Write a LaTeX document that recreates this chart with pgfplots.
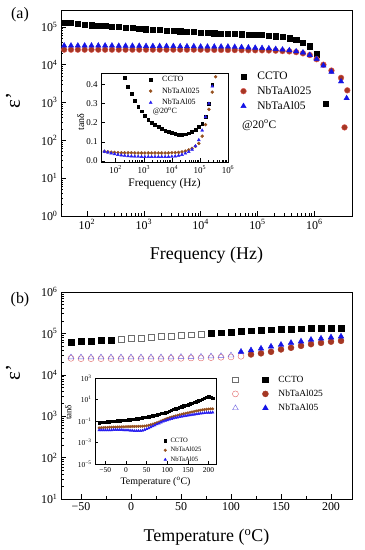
\documentclass[border=0pt]{standalone}
\usepackage{fontspec}
\setmainfont{Liberation Serif}
\usepackage{pgfplots}
\pgfplotsset{compat=1.18}
\definecolor{cbr}{RGB}{165,55,35}
\definecolor{cbrE}{RGB}{225,90,90}
\definecolor{cbl}{RGB}{20,20,230}
\definecolor{ibr}{RGB}{150,80,30}
\definecolor{ibl}{RGB}{40,30,240}
\definecolor{ored}{RGB}{225,100,100}
\definecolor{oblu}{RGB}{110,100,225}
\definecolor{ogry}{RGB}{110,110,110}
\pgfplotsset{
  every axis/.append style={tick align=inside, axis line style={line width=0.6bp},
    every tick/.style={black, line width=0.5bp}, scale only axis, anchor=south west},
}
\begin{document}
\begin{tikzpicture}[x=1bp,y=1bp]
\path[use as bounding box] (0,0) rectangle (364,550);
% ---------------- panel (a) main
\begin{axis}[at={(61bp,334bp)}, width=291bp, height=206bp,
  xmode=log, ymode=log, xmin=35, xmax=4.6e6, ymin=1, ymax=2.8e5,
  xtick={1e2,1e3,1e4,1e5,1e6},
  xticklabels={10\textsuperscript{2},10\textsuperscript{3},10\textsuperscript{4},10\textsuperscript{5},10\textsuperscript{6}},
  ytick={1,10,100,1e3,1e4,1e5},
  yticklabels={10\textsuperscript{0},10\textsuperscript{1},10\textsuperscript{2},10\textsuperscript{3},10\textsuperscript{4},10\textsuperscript{5}},
  xtick pos=left, ytick pos=left,
  major tick length=5bp, minor tick length=2.5bp,
  ticklabel style={font=\fontsize{12}{12}\selectfont},
  xlabel={Frequency (Hz)},
  xlabel style={font=\fontsize{18}{18}\selectfont, at={(rel axis cs:0.5,0)}, anchor=center, yshift=-39bp},
  ylabel={ε'},
  ylabel style={font=\fontsize{21}{21}\selectfont, at={(rel axis cs:-0.165,0.56)}, anchor=center},
  legend style={draw=none, fill=none, at={(rel axis cs:0.613,0.715)}, anchor=north west,
    font=\fontsize{11.5}{13}\selectfont, row sep=1.5bp, inner sep=1bp,
    /tikz/every odd column/.append style={column sep=9bp}},
  legend cell align=left,
]
\addplot[only marks, mark=square*, mark size=2.6bp, black] coordinates {
(39.8,1.32e5)(52.5,1.26e5)(69.2,1.2e5)(91.2,1.15e5)(120.2,1.11e5)(158.5,1.08e5)(208.9,1.05e5)(275.4,1.02e5)
(363.1,9.9e4)(478.6,9.6e4)(631,9.3e4)(831.8,9.0e4)(1096,8.7e4)(1445,8.5e4)(1905,8.3e4)(2512,8.1e4)
(3311,7.9e4)(4365,7.7e4)(5754,7.5e4)(7586,7.3e4)(1e4,7.1e4)(13183,7.0e4)(17378,6.8e4)(22909,6.7e4)
(30200,6.6e4)(39811,6.5e4)(52481,6.4e4)(69183,6.3e4)(91201,6.2e4)(120226,6.1e4)(158489,5.9e4)(208930,5.7e4)
(275423,5.4e4)(363078,5.0e4)(478630,4.5e4)(630957,3.9e4)(831764,3.1e4)(1096478,1.9e4)(1600000,950)
};
\addlegendentry{CCTO}
\addplot[only marks, mark=*, mark size=2.9bp, draw=cbrE, fill=cbr] coordinates {
(39.8,2.5e4)(52.5,2.5e4)(69.2,2.5e4)(91.2,2.5e4)(120.2,2.5e4)(158.5,2.5e4)(208.9,2.5e4)(275.4,2.5e4)
(363.1,2.5e4)(478.6,2.5e4)(631,2.5e4)(831.8,2.5e4)(1096,2.5e4)(1445,2.5e4)(1905,2.5e4)(2512,2.5e4)
(3311,2.5e4)(4365,2.5e4)(5754,2.5e4)(7586,2.5e4)(1e4,2.5e4)(13183,2.48e4)(17378,2.47e4)(22909,2.46e4)
(30200,2.45e4)(39811,2.44e4)(52481,2.43e4)(69183,2.42e4)(91201,2.41e4)(120226,2.4e4)(158489,2.38e4)(208930,2.35e4)
(275423,2.3e4)(363078,2.25e4)(478630,2.15e4)(630957,2.0e4)(831764,1.8e4)(1096478,1.4e4)(1445440,1.0e4)
(2000000,7000)(2950000,4500)(3800000,2100)(3400000,220)
};
\addlegendentry{NbTaAl025}
\addplot[only marks, mark=triangle*, mark size=3.1bp, cbl] coordinates {
(39.8,3.2e4)(52.5,3.2e4)(69.2,3.2e4)(91.2,3.2e4)(120.2,3.2e4)(158.5,3.2e4)(208.9,3.2e4)(275.4,3.2e4)
(363.1,3.15e4)(478.6,3.15e4)(631,3.15e4)(831.8,3.15e4)(1096,3.1e4)(1445,3.1e4)(1905,3.1e4)(2512,3.1e4)
(3311,3.1e4)(4365,3.05e4)(5754,3.05e4)(7586,3.05e4)(1e4,3.0e4)(13183,3.0e4)(17378,3.0e4)(22909,3.0e4)
(30200,3.0e4)(39811,2.95e4)(52481,2.9e4)(69183,2.85e4)(91201,2.8e4)(120226,2.75e4)(158489,2.7e4)(208930,2.6e4)
(275423,2.5e4)(363078,2.4e4)(478630,2.25e4)(630957,2.1e4)(831764,1.8e4)(1096478,1.4e4)(1445440,9500)
(2000000,6500)(2950000,3600)(3700000,1300)
};
\addlegendentry{NbTaAl05}
\node[anchor=west, font=\fontsize{11.5}{13}\selectfont] at (rel axis cs:0.61,0.44) {@20\textsuperscript{o}C};
\end{axis}
% ---------------- inset (a)
\begin{axis}[at={(101bp,388bp)}, width=127bp, height=89bp,
  axis background/.style={fill=white},
  xmode=log, xmin=30, xmax=1e6, ymin=-0.005, ymax=0.46,
  xtick={1e2,1e3,1e4,1e5,1e6},
  xticklabels={10\textsuperscript{2},10\textsuperscript{3},10\textsuperscript{4},10\textsuperscript{5},10\textsuperscript{6}},
  ytick={0,0.1,0.2,0.3,0.4},
  yticklabels={0.0,0.1,0.2,0.3,0.4},
  xtick pos=left, ytick pos=left,
  major tick length=3.5bp, minor tick length=2bp,
  ticklabel style={font=\fontsize{9}{9}\selectfont},
  xlabel={Frequency (Hz)},
  xlabel style={font=\fontsize{11.5}{11.5}\selectfont, at={(rel axis cs:0.5,0)}, anchor=center, yshift=-22bp},
  ylabel={tanδ},
  ylabel style={font=\fontsize{10}{10}\selectfont, at={(rel axis cs:-0.16,0.45)}, anchor=center},
  legend style={draw=none, fill=none, at={(rel axis cs:0.37,1.0)}, anchor=north west,
    font=\fontsize{8}{9}\selectfont, row sep=0.6bp, inner sep=1bp,
    /tikz/every odd column/.append style={column sep=8bp}},
  legend cell align=left,
]
\addplot[only marks, mark=square*, mark size=1.4bp, black] coordinates {
(208.9,0.435)(275.4,0.39)(363.1,0.35)(478.6,0.315)(631,0.285)(831.8,0.26)(1096,0.238)(1445,0.218)
(1905,0.202)(2512,0.189)(3311,0.178)(4365,0.168)(5754,0.16)(7586,0.153)(1e4,0.147)(13183,0.142)
(17378,0.139)(22909,0.138)(30200,0.14)(39811,0.145)(52481,0.153)(69183,0.165)(91201,0.178)(120226,0.195)
(158489,0.23)(208930,0.30)(275423,0.40)
};
\addlegendentry{CCTO}
\addplot[only marks, mark=*, mark size=1.5bp, ibr] coordinates {
(39.8,0.05)(52.5,0.048)(69.2,0.046)(91.2,0.045)(120.2,0.044)(158.5,0.043)(208.9,0.043)(275.4,0.043)
(363.1,0.043)(478.6,0.042)(631,0.042)(831.8,0.042)(1096,0.042)(1445,0.042)(1905,0.042)(2512,0.042)
(3311,0.042)(4365,0.042)(5754,0.042)(7586,0.042)(1e4,0.043)(13183,0.044)(17378,0.045)(22909,0.048)
(30200,0.052)(39811,0.058)(52481,0.066)(69183,0.077)(91201,0.092)(120226,0.13)(158489,0.19)(208930,0.27)
(275423,0.36)(363078,0.44)
};
\addlegendentry{NbTaAl025}
\addplot[only marks, mark=triangle*, mark size=1.7bp, ibl] coordinates {
(39.8,0.05)(52.5,0.045)(69.2,0.04)(91.2,0.036)(120.2,0.033)(158.5,0.03)(208.9,0.028)(275.4,0.026)
(363.1,0.025)(478.6,0.024)(631,0.023)(831.8,0.022)(1096,0.022)(1445,0.022)(1905,0.022)(2512,0.022)
(3311,0.022)(4365,0.022)(5754,0.022)(7586,0.022)(1e4,0.023)(13183,0.025)(17378,0.028)(22909,0.033)
(30200,0.04)(39811,0.048)(52481,0.06)(69183,0.078)(91201,0.11)(120226,0.16)(158489,0.23)(208930,0.30)
(275423,0.39)
};
\addlegendentry{NbTaAl05}
\node[anchor=west, font=\fontsize{8}{9}\selectfont] at (rel axis cs:0.38,0.57) {@20\textsuperscript{o}C};
\end{axis}
% ---------------- panel (b) main
\begin{axis}[at={(61bp,51bp)}, width=291bp, height=207bp,
  ymode=log, xmin=-70, xmax=221, ymin=10, ymax=1e6,
  xtick={-50,0,50,100,150,200}, xticklabels={−50,0,50,100,150,200},
  minor x tick num=1,
  ytick={10,100,1e3,1e4,1e5,1e6},
  yticklabels={10\textsuperscript{1},10\textsuperscript{2},10\textsuperscript{3},10\textsuperscript{4},10\textsuperscript{5},10\textsuperscript{6}},
  xtick pos=left, ytick pos=left,
  major tick length=5bp, minor tick length=2.5bp,
  ticklabel style={font=\fontsize{12}{12}\selectfont},
  xlabel={Temperature (\textsuperscript{o}C)},
  xlabel style={font=\fontsize{18}{18}\selectfont, at={(rel axis cs:0.5,0)}, anchor=center, yshift=-38bp},
  ylabel={ε'},
  ylabel style={font=\fontsize{21}{21}\selectfont, at={(rel axis cs:-0.165,0.61)}, anchor=center},
  legend style={draw=none, fill=none, at={(rel axis cs:0.585,0.61)}, anchor=north west,
    font=\fontsize{9.5}{11}\selectfont, row sep=2.2bp, inner sep=1bp, legend columns=2,
    /tikz/every odd column/.append style={column sep=8bp},
    /tikz/every even column/.append style={column sep=12bp}},
  legend cell align=left,
]
\addplot[only marks, mark=square*, mark size=2.9bp, black, forget plot] coordinates {
(-60,6.2e4)(-50,6.4e4)(-40,6.5e4)(-30,6.7e4)(-20,6.9e4)
(80,1.0e5)(90,1.04e5)(100,1.08e5)(110,1.12e5)(120,1.16e5)(130,1.2e5)(140,1.23e5)(150,1.26e5)
(160,1.28e5)(170,1.3e5)(180,1.32e5)(190,1.33e5)(200,1.35e5)(210,1.36e5)
};
\addplot[only marks, mark=square, mark size=2.9bp, ogry, forget plot] coordinates {
(-10,7.3e4)(0,7.6e4)(10,7.8e4)(20,8.1e4)(30,8.4e4)(40,8.7e4)(50,9.0e4)(60,9.3e4)(70,9.6e4)
};
\addplot[only marks, mark=o, mark size=3bp, ored, forget plot] coordinates {
(-60,2.5e4)(-50,2.45e4)(-40,2.45e4)(-30,2.45e4)(-20,2.45e4)(-10,2.45e4)(0,2.45e4)(10,2.45e4)
(20,2.45e4)(30,2.45e4)(40,2.5e4)(50,2.5e4)(60,2.55e4)(70,2.55e4)(80,2.6e4)(90,2.65e4)(100,2.7e4)(110,2.8e4)
};
\addplot[only marks, mark=triangle, mark size=3.3bp, oblu, forget plot] coordinates {
(-60,2.65e4)(-50,2.65e4)(-40,2.65e4)(-30,2.65e4)(-20,2.65e4)(-10,2.65e4)(0,2.65e4)(10,2.65e4)
(20,2.65e4)(30,2.65e4)(40,2.65e4)(50,2.7e4)(60,2.7e4)(70,2.75e4)(80,2.8e4)(90,2.85e4)(100,2.95e4)
};
\addplot[only marks, mark=*, mark size=3bp, draw=cbr, fill=cbr, forget plot] coordinates {
(120,3.1e4)(130,3.3e4)(140,3.6e4)(150,4.1e4)(160,4.5e4)(170,5.0e4)(180,5.5e4)(190,5.9e4)(200,6.3e4)(210,6.6e4)
};
\addplot[only marks, mark=triangle*, mark size=3.3bp, cbl, forget plot] coordinates {
(110,3.6e4)(120,3.9e4)(130,4.3e4)(140,4.8e4)(150,5.3e4)(160,5.9e4)(170,6.4e4)(180,7.0e4)(190,7.5e4)(200,8.0e4)(210,8.4e4)
};
\addlegendimage{only marks, mark=square, mark size=2.9bp, ogry}
\addlegendentry{}
\addlegendimage{only marks, mark=square*, mark size=2.9bp, black}
\addlegendentry{CCTO}
\addlegendimage{only marks, mark=o, mark size=3bp, ored}
\addlegendentry{}
\addlegendimage{only marks, mark=*, mark size=3bp, cbr}
\addlegendentry{NbTaAl025}
\addlegendimage{only marks, mark=triangle, mark size=3.3bp, oblu}
\addlegendentry{}
\addlegendimage{only marks, mark=triangle*, mark size=3.3bp, cbl}
\addlegendentry{NbTaAl05}
\end{axis}
% ---------------- inset (b)
\begin{axis}[at={(95bp,86bp)}, width=121bp, height=86bp,
  axis background/.style={fill=white},
  ymode=log, xmin=-75, xmax=218, ymin=1e-5, ymax=1e3,
  xtick={-50,0,50,100,150,200}, xticklabels={−50,0,50,100,150,200},
  ytick={1e-5,1e-3,1e-1,10,1000},
  yticklabels={10\textsuperscript{−5},10\textsuperscript{−3},10\textsuperscript{−1},10\textsuperscript{1},10\textsuperscript{3}},
  xtick pos=left, ytick pos=left, minor y tick num=0,
  major tick length=3bp, minor tick length=1.5bp,
  ticklabel style={font=\fontsize{7.5}{7.5}\selectfont},
  xlabel={Temperature (\textsuperscript{o}C)},
  xlabel style={font=\fontsize{10}{10}\selectfont, at={(rel axis cs:0.5,0)}, anchor=center, yshift=-18bp},
  ylabel={tanδ},
  ylabel style={font=\fontsize{9}{9}\selectfont, at={(rel axis cs:-0.22,0.6)}, anchor=center},
  legend style={draw=none, fill=none, at={(rel axis cs:0.56,0.34)}, anchor=north west,
    font=\fontsize{6.6}{7.5}\selectfont, row sep=-0.6bp, inner sep=1bp,
    /tikz/every odd column/.append style={column sep=2bp}},
  legend cell align=left,
]
\addplot[only marks, mark=square*, mark size=1.2bp, black] coordinates {
(-65,0.071)(-60,0.074)(-55,0.077)(-50,0.079)(-45,0.083)(-40,0.087)(-35,0.091)(-30,0.095)(-25,0.1)(-20,0.105)
(-15,0.11)(-10,0.115)(-5,0.12)(0,0.126)(5,0.13)(10,0.135)(15,0.14)(20,0.15)(25,0.16)(30,0.17)
(35,0.18)(40,0.2)(45,0.22)(50,0.24)(55,0.26)(60,0.29)(65,0.32)(70,0.35)(75,0.4)(80,0.45)
(85,0.5)(90,0.55)(95,0.6)(100,0.7)(105,0.85)(110,1.0)(115,1.2)(120,1.4)(125,1.6)(130,1.9)
(135,2.2)(140,2.6)(145,3.0)(150,3.4)(155,4.0)(160,4.6)(165,5.4)(170,6.3)(175,7.5)(180,9)
(185,11)(190,14)(195,17)(200,18)(205,16)(210,13)
};
\addlegendentry{CCTO}
\addplot[only marks, mark=*, mark size=1.3bp, ibr] coordinates {
(-65,0.023)(-60,0.024)(-55,0.024)(-50,0.025)(-45,0.025)(-40,0.026)(-35,0.026)(-30,0.027)(-25,0.027)(-20,0.028)
(-15,0.028)(-10,0.029)(-5,0.029)(0,0.03)(5,0.03)(10,0.03)(15,0.031)(20,0.031)(25,0.031)(30,0.032)
(35,0.032)(40,0.033)(45,0.034)(50,0.036)(55,0.04)(60,0.045)(65,0.052)(70,0.06)(75,0.07)(80,0.08)
(85,0.1)(90,0.12)(95,0.145)(100,0.17)(105,0.2)(110,0.23)(115,0.26)(120,0.3)(125,0.34)(130,0.38)
(135,0.42)(140,0.47)(145,0.52)(150,0.57)(155,0.63)(160,0.7)(165,0.77)(170,0.85)(175,0.92)(180,1.0)
(185,1.08)(190,1.15)(195,1.22)(200,1.3)(205,1.33)(210,1.35)
};
\addlegendentry{NbTaAl025}
\addplot[only marks, mark=triangle*, mark size=1.5bp, ibl] coordinates {
(-65,0.014)(-60,0.014)(-55,0.014)(-50,0.014)(-45,0.014)(-40,0.014)(-35,0.014)(-30,0.015)(-25,0.015)(-20,0.015)
(-15,0.015)(-10,0.015)(-5,0.014)(0,0.014)(5,0.014)(10,0.013)(15,0.013)(20,0.012)(25,0.012)(30,0.012)
(35,0.012)(40,0.013)(45,0.015)(50,0.018)(55,0.022)(60,0.027)(65,0.033)(70,0.04)(75,0.05)(80,0.06)
(85,0.075)(90,0.09)(95,0.105)(100,0.12)(105,0.14)(110,0.16)(115,0.18)(120,0.2)(125,0.22)(130,0.24)
(135,0.26)(140,0.28)(145,0.3)(150,0.33)(155,0.35)(160,0.38)(165,0.4)(170,0.43)(175,0.46)(180,0.5)
(185,0.52)(190,0.55)(195,0.58)(200,0.6)(205,0.61)(210,0.62)
};
\addlegendentry{NbTaAl05}
\end{axis}
% panel tags
\node[font=\fontsize{16}{16}\selectfont] at (20bp,535bp) {(a)};
\node[font=\fontsize{16}{16}\selectfont] at (20bp,250bp) {(b)};
\end{tikzpicture}
\end{document}
